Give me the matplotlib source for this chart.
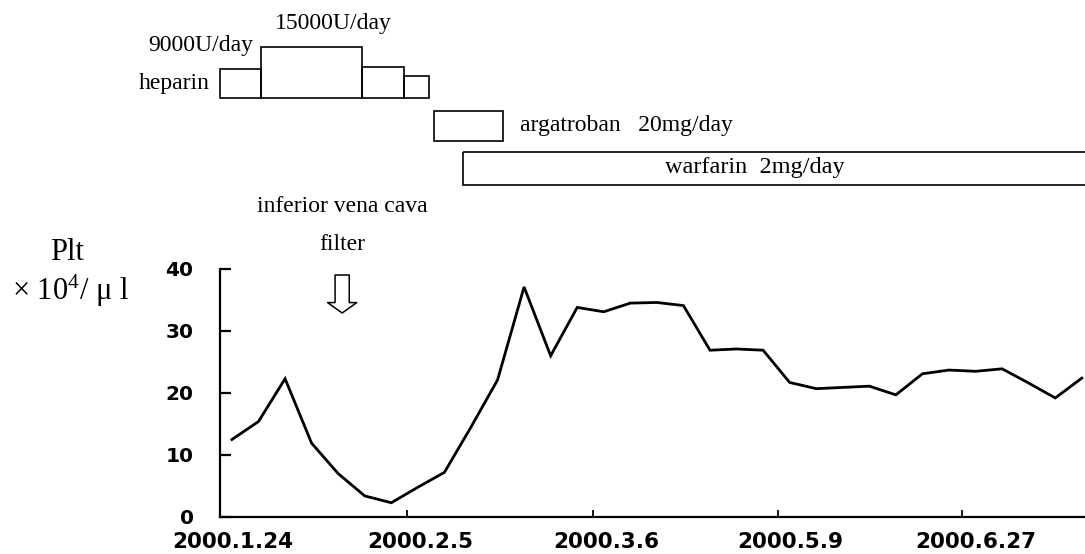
import matplotlib
matplotlib.use("Agg")
import matplotlib.pyplot as plt
import matplotlib.transforms as mtransforms
from matplotlib.patches import Rectangle

plt.rcParams["mathtext.fontset"] = "custom"
plt.rcParams["mathtext.rm"] = "Liberation Serif"
plt.rcParams["mathtext.it"] = "Liberation Serif:italic"

# platelet counts (x10^4/ul), one per sample, equally spaced
plt_values = [12.5, 15.4, 22.3, 11.9, 7.0, 3.4, 2.3, 4.8, 7.2, 14.5, 22.1,
              37.1, 26.0, 33.8, 33.1, 34.5, 34.6, 34.1, 26.9, 27.1, 26.9,
              21.7, 20.7, 20.9, 21.1, 19.7, 23.1, 23.7, 23.5, 23.9, 21.6,
              19.2, 22.4]
sample_idx = list(range(len(plt_values)))

date_ticks = [-0.45, 6.6, 13.6, 20.55, 27.5]
date_labels = ["2000.1.24", "2000.2.5", "2000.3.6", "2000.5.9", "2000.6.27"]
y_ticks = [0, 10, 20, 30, 40]

# treatment periods (in sample units) and heparin box heights (dose level)
heparin_start = [-0.45, 1.09, 4.89, 6.48]
heparin_end = [1.09, 4.89, 6.48, 7.42]
heparin_level = [29, 51, 31, 22]
argatroban_period = (7.6, 10.2)
warfarin_period = (8.7, 34.0)
filter_day = 4.15

serif = ["Liberation Serif", "DejaVu Serif"]
sans = ["DejaVu Sans"]

fig = plt.figure(figsize=(10.85, 5.54), dpi=100)
W, H = 1085.0, 554.0
ax_left, ax_right = 220 / W, 1.0
ax = fig.add_axes([ax_left, 1 - 517 / H, ax_right - ax_left, (517 - 269) / H])

ax.plot(sample_idx, plt_values, color="black", lw=2.0, solid_joinstyle="miter")
ax.set_xlim(-0.45, 32.12)
ax.set_ylim(0, 40)
ax.spines["top"].set_visible(False)
ax.spines["right"].set_visible(False)
for s in ("left", "bottom"):
    ax.spines[s].set_linewidth(1.6)
ax.set_yticks(y_ticks)
ax.set_yticklabels([str(v) for v in y_ticks], fontfamily=sans, fontweight="bold", fontsize=14.5)
ax.set_xticks(date_ticks)
ax.set_xticklabels(date_labels, fontfamily=sans, fontweight="bold", fontsize=15.5)
ax.tick_params(axis="y", direction="in", length=8, width=1.6, pad=19)
ax.tick_params(axis="x", direction="in", length=5, width=1.3, pad=11)
shift = mtransforms.ScaledTranslation(0.13, 0, fig.dpi_scale_trans)
for lab in ax.get_xticklabels():
    lab.set_transform(lab.get_transform() + shift)

# overlay axes in pixel rows for the treatment boxes and notes
ann = fig.add_axes([ax_left, 0, ax_right - ax_left, 1], sharex=ax)
ann.set_ylim(H, 0)
ann.axis("off")
ann.patch.set_alpha(0)

base = 98
for x0, x1, lvl in zip(heparin_start, heparin_end, heparin_level):
    ann.add_patch(Rectangle((x0, base - lvl), x1 - x0, lvl, fill=False,
                            ec="black", lw=1.2, clip_on=False))
ann.add_patch(Rectangle((argatroban_period[0], 111), argatroban_period[1] - argatroban_period[0], 30,
                        fill=False, ec="black", lw=1.2, clip_on=False))
ann.add_patch(Rectangle((warfarin_period[0], 152), warfarin_period[1] - warfarin_period[0], 33,
                        fill=False, ec="black", lw=1.2, clip_on=False))

fs = 17
ann.text(-0.83, 84, "heparin", ha="right", va="center", fontsize=fs, fontfamily=serif)
ann.text(-1.17, 45, "9000U/day", ha="center", va="center", fontsize=fs, fontfamily=serif)
ann.text(3.8, 24, "15000U/day", ha="center", va="center", fontsize=fs, fontfamily=serif)
ann.text(10.84, 125, "argatroban   20mg/day", ha="left", va="center", fontsize=fs, fontfamily=serif)
ann.text(19.7, 167, "warfarin  2mg/day", ha="center", va="center", fontsize=fs + 0.5, fontfamily=serif)
ann.text(filter_day, 207, "inferior vena cava", ha="center", va="center", fontsize=fs, fontfamily=serif)
ann.text(filter_day, 244, "filter", ha="center", va="center", fontsize=fs, fontfamily=serif)

ann.annotate("", xy=(filter_day, 313), xytext=(filter_day, 275),
             arrowprops=dict(arrowstyle="simple,head_length=0.5,head_width=1.4,tail_width=0.68",
                             fc="white", ec="black", lw=1.1, shrinkA=0, shrinkB=0,
                             mutation_scale=15))

fig.text(67 / W, 1 - 252 / H, "Plt", ha="center", va="center", fontsize=22, fontfamily=serif)
fig.text(70 / W, 1 - 291 / H, "× $10^{4}$/ μ l", ha="center", va="center", fontsize=22, fontfamily=serif)

fig.savefig("out.png", dpi=100)
